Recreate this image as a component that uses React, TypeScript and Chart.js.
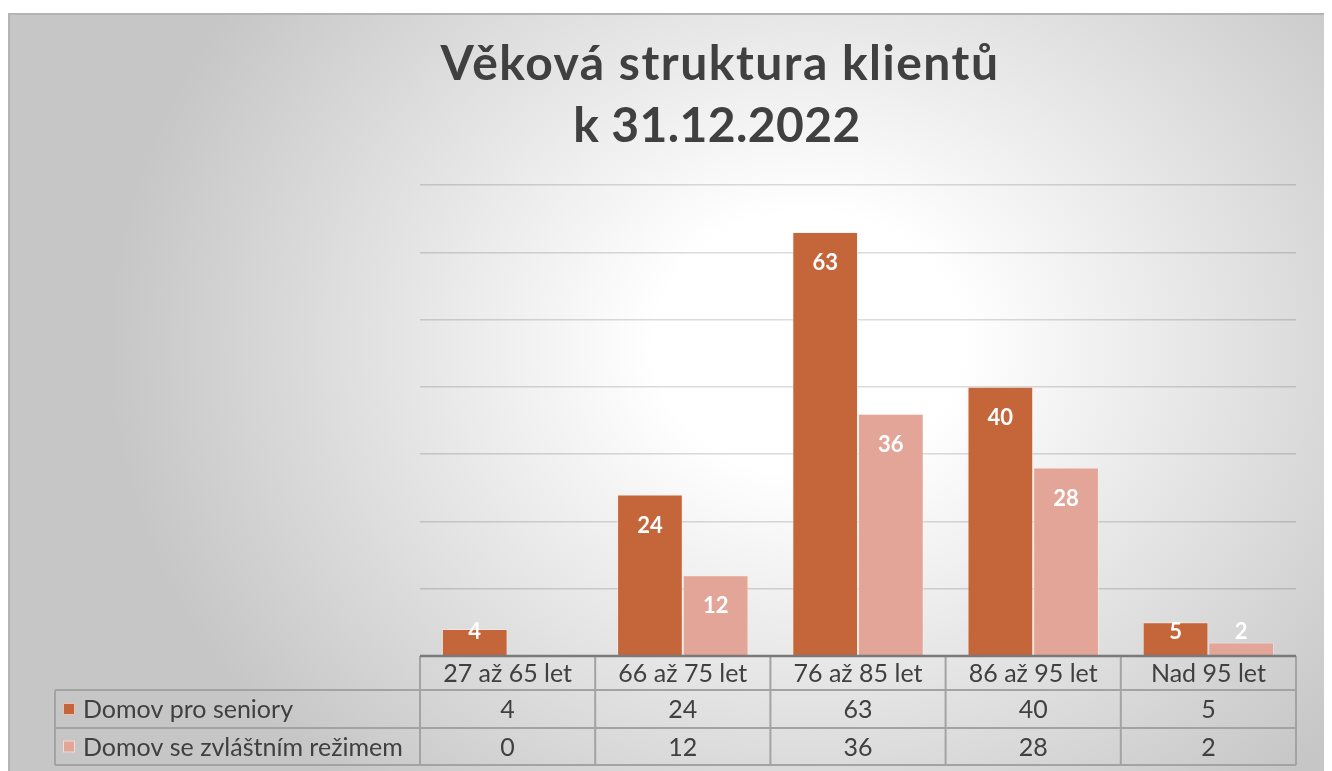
import React, { useEffect, useRef } from "react";
import { Chart, registerables } from "chart.js";

Chart.register(...registerables);

const titleLines = ["Věková struktura klientů", "k 31.12.2022"];
const categories = ["27 až 65 let", "66 až 75 let", "76 až 85 let", "86 až 95 let", "Nad 95 let"];
const seriesNames = ["Domov pro seniory", "Domov se zvláštním režimem"];
const domovProSeniory = [4, 24, 63, 40, 5];
const domovZvlastniRezim = [0, 12, 36, 28, 2];
const yMax = 70;
const yStep = 10;
const seriesColors = ["#C4653A", "#E3A597"];

const W = 1318;
const H = 758;
const FONT = "Lato, 'Open Sans', sans-serif";
const TEXT = "#404040";

const backgroundPlugin = {
  id: "bg",
  beforeDraw(chart: any) {
    const ctx = chart.ctx;
    ctx.save();
    ctx.fillStyle = "#c6c6c6";
    ctx.fillRect(0, 0, W, H);
    ctx.translate(800, 330);
    ctx.scale(1, 0.85);
    const g = ctx.createRadialGradient(0, 0, 0, 0, 0, 700);
    g.addColorStop(0, "#ffffff");
    g.addColorStop(0.22, "#ffffff");
    g.addColorStop(1, "#c6c6c6");
    ctx.fillStyle = g;
    ctx.fillRect(-1000, -1000, 2000, 2000);
    ctx.restore();
    ctx.save();
    ctx.strokeStyle = "#b4b4b4";
    ctx.lineWidth = 2;
    ctx.strokeRect(1, 1, W - 2, H + 10);
    ctx.restore();
  },
};

const titlePlugin = {
  id: "ttl",
  afterDraw(chart: any) {
    const ctx = chart.ctx;
    ctx.save();
    ctx.fillStyle = TEXT;
    ctx.font = `bold 48px ${FONT}`;
    ctx.textAlign = "center";
    ctx.textBaseline = "alphabetic";
    ctx.letterSpacing = "1.5px";
    ctx.fillText(titleLines[0], 712, 67);
    ctx.letterSpacing = "0.4px";
    ctx.fillText(titleLines[1], 709, 129);
    ctx.restore();
  },
};

const labelPlugin = {
  id: "vals",
  afterDatasetsDraw(chart: any) {
    const ctx = chart.ctx;
    const base = chart.chartArea.bottom;
    ctx.save();
    ctx.fillStyle = "#ffffff";
    ctx.font = `bold 22px ${FONT}`;
    ctx.textAlign = "center";
    ctx.textBaseline = "middle";
    chart.data.datasets.forEach((ds: any, di: number) => {
      const meta = chart.getDatasetMeta(di);
      meta.data.forEach((el: any, i: number) => {
        const v = ds.data[i];
        if (!v) return;
        const y = Math.min(el.y + 31, base - 24);
        ctx.fillText(String(v), el.x, y);
      });
    });
    ctx.restore();
  },
};

const tablePlugin = {
  id: "tbl",
  afterDraw(chart: any) {
    const ctx = chart.ctx;
    const { left, right, bottom } = chart.chartArea;
    const n = categories.length;
    const cw = (right - left) / n;
    const legLeft = 47;
    const r0 = bottom;
    const r1 = r0 + 34;
    const r2 = r1 + 38;
    const r3 = r2 + 37;
    ctx.save();
    ctx.strokeStyle = "#a3a3a3";
    ctx.lineWidth = 2;
    ctx.beginPath();
    [r1, r2, r3].forEach((y) => {
      ctx.moveTo(legLeft, y);
      ctx.lineTo(right, y);
    });
    ctx.moveTo(legLeft, r1);
    ctx.lineTo(legLeft, r3);
    for (let i = 0; i <= n; i++) {
      const x = left + i * cw;
      ctx.moveTo(x, r0);
      ctx.lineTo(x, r3);
    }
    ctx.stroke();
    ctx.strokeStyle = "#7a7a7a";
    ctx.lineWidth = 2.5;
    ctx.beginPath();
    ctx.moveTo(left, r0);
    ctx.lineTo(right, r0);
    ctx.stroke();

    ctx.fillStyle = TEXT;
    ctx.font = `25px ${FONT}`;
    ctx.textAlign = "center";
    ctx.textBaseline = "middle";
    const rows = [domovProSeniory, domovZvlastniRezim];
    categories.forEach((c, i) => {
      const cx = left + (i + 0.5) * cw;
      ctx.fillText(c, cx, (r0 + r1) / 2 + 1);
      rows.forEach((row, ri) => {
        const yc = ri === 0 ? (r1 + r2) / 2 + 1 : (r2 + r3) / 2 + 1;
        ctx.fillText(String(row[i]), cx, yc);
      });
    });
    ctx.textAlign = "left";
    seriesNames.forEach((s, ri) => {
      const yc = ri === 0 ? (r1 + r2) / 2 : (r2 + r3) / 2;
      ctx.fillStyle = seriesColors[ri];
      ctx.fillRect(55, yc - 6, 12, 12);
      ctx.strokeStyle = "rgba(255,255,255,0.6)";
      ctx.lineWidth = 1;
      ctx.strokeRect(55.5, yc - 5.5, 11, 11);
      ctx.fillStyle = TEXT;
      ctx.fillText(s, 75, yc + 1);
    });
    ctx.restore();
  },
};

export default function App() {
  const ref = useRef<HTMLCanvasElement | null>(null);
  useEffect(() => {
    if (!ref.current) return;
    const chart = new Chart(ref.current, {
      type: "bar",
      data: {
        labels: categories,
        datasets: [
          {
            label: seriesNames[0],
            data: domovProSeniory,
            backgroundColor: seriesColors[0],
            borderColor: "rgba(255,235,225,0.55)",
            borderWidth: 1,
            categoryPercentage: 0.75,
            barPercentage: 1,
          },
          {
            label: seriesNames[1],
            data: domovZvlastniRezim,
            backgroundColor: seriesColors[1],
            borderColor: "rgba(255,235,225,0.55)",
            borderWidth: 1,
            categoryPercentage: 0.75,
            barPercentage: 1,
          },
        ],
      },
      options: {
        responsive: false,
        animation: false,
        devicePixelRatio: 1,
        layout: { padding: { left: 412, right: 30, top: 172, bottom: 115 } },
        plugins: {
          legend: { display: false },
          title: { display: false },
          tooltip: { enabled: false },
        },
        scales: {
          x: { display: false },
          y: {
            min: 0,
            max: yMax,
            ticks: { display: false, stepSize: yStep },
            border: { display: false },
            grid: { color: "rgba(0,0,0,0.14)", lineWidth: 1.5, drawTicks: false },
          },
        },
      },
      plugins: [backgroundPlugin, labelPlugin, tablePlugin, titlePlugin],
    });
    return () => chart.destroy();
  }, []);
  return (
    <div style={{ paddingTop: 5 }}>
      <canvas ref={ref} width={W} height={H} style={{ display: "block", width: W, height: H }} />
    </div>
  );
}
